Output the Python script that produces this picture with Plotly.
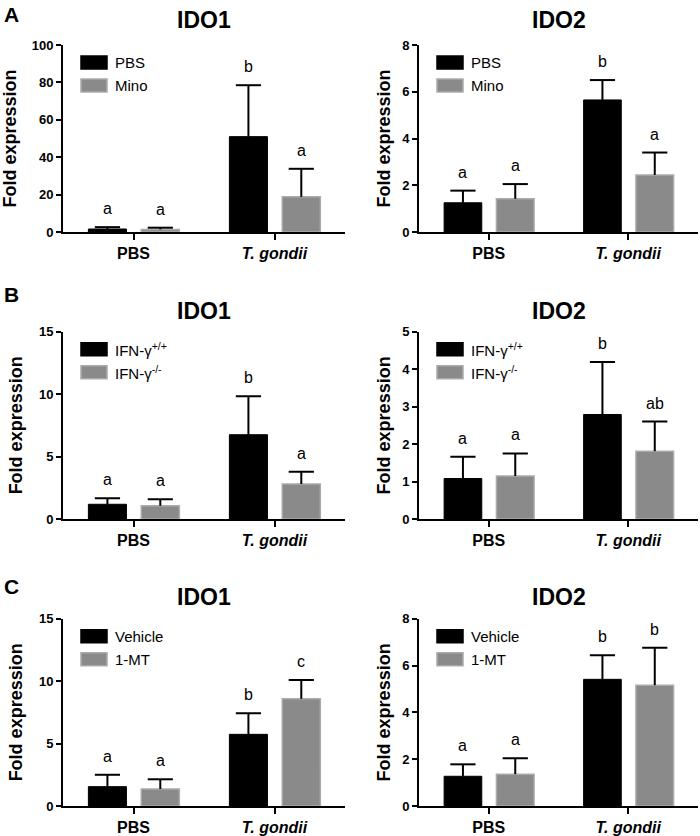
import plotly.graph_objects as go
from plotly.subplots import make_subplots

# ---------------- data ----------------
categories = ["PBS", "T. gondii"]
tick_labels = ["PBS", "<i>T. gondii</i>"]

panel_letters = ["A", "B", "C"]
gene_titles = ["IDO1", "IDO2"]

legend_ctrl = ["PBS", "IFN-γ<sup>+/+</sup>", "Vehicle"]
legend_trt = ["Mino", "IFN-γ<sup>-/-</sup>", "1-MT"]

# row A (minocycline)
A1_ctrl = [1.6, 51.0];   A1_ctrl_err = [1.0, 27.5]
A1_trt = [1.4, 18.8];    A1_trt_err = [0.9, 15.0]
A2_ctrl = [1.25, 5.65];  A2_ctrl_err = [0.52, 0.85]
A2_trt = [1.42, 2.44];   A2_trt_err = [0.63, 0.96]
# row B (IFN-gamma KO)
B1_ctrl = [1.18, 6.75];  B1_ctrl_err = [0.48, 3.08]
B1_trt = [1.07, 2.80];   B1_trt_err = [0.52, 0.98]
B2_ctrl = [1.08, 2.79];  B2_ctrl_err = [0.58, 1.40]
B2_trt = [1.15, 1.81];   B2_trt_err = [0.60, 0.79]
# row C (1-MT)
C1_ctrl = [1.55, 5.74];  C1_ctrl_err = [0.95, 1.68]
C1_trt = [1.36, 8.59];   C1_trt_err = [0.78, 1.50]
C2_ctrl = [1.27, 5.41];  C2_ctrl_err = [0.51, 1.03]
C2_trt = [1.36, 5.16];   C2_trt_err = [0.68, 1.60]

A1_sig_ctrl = ["a", "b"]; A1_sig_trt = ["a", "a"]
A2_sig_ctrl = ["a", "b"]; A2_sig_trt = ["a", "a"]
B1_sig_ctrl = ["a", "b"]; B1_sig_trt = ["a", "a"]
B2_sig_ctrl = ["a", "b"]; B2_sig_trt = ["a", "ab"]
C1_sig_ctrl = ["a", "b"]; C1_sig_trt = ["a", "c"]
C2_sig_ctrl = ["a", "b"]; C2_sig_trt = ["a", "b"]

y_max = [[100, 8], [15, 5], [15, 8]]
y_dtick = [[20, 2], [5, 1], [5, 2]]

panels = [
    [(A1_ctrl, A1_ctrl_err, A1_trt, A1_trt_err, A1_sig_ctrl, A1_sig_trt),
     (A2_ctrl, A2_ctrl_err, A2_trt, A2_trt_err, A2_sig_ctrl, A2_sig_trt)],
    [(B1_ctrl, B1_ctrl_err, B1_trt, B1_trt_err, B1_sig_ctrl, B1_sig_trt),
     (B2_ctrl, B2_ctrl_err, B2_trt, B2_trt_err, B2_sig_ctrl, B2_sig_trt)],
    [(C1_ctrl, C1_ctrl_err, C1_trt, C1_trt_err, C1_sig_ctrl, C1_sig_trt),
     (C2_ctrl, C2_ctrl_err, C2_trt, C2_trt_err, C2_sig_ctrl, C2_sig_trt)],
]

# ---------------- style / layout ----------------
W, H = 700, 836
FONT = "Liberation Sans, Arial, sans-serif"
BLACK = "#000000"
GRAY = "#8a8a8a"
GRAY_EDGE = "#ababab"
BAR_W = 0.27
OFF_CTRL = -0.32
OFF_TRT = 0.055

col_px = [(63, 345), (419, 698)]
row_px = [(45, 232), (331.7, 519), (618.7, 806)]
title_shift = [25, 21, 22]
title_standoff = [12, 7]

fig = make_subplots(rows=3, cols=2)

def add_errs(row, col, xs, tops, errs):
    fig.add_trace(go.Scatter(
        x=xs, y=tops, mode="markers",
        marker=dict(symbol="line-ew", size=18, color=BLACK,
                    line=dict(width=2, color=BLACK)),
        error_y=dict(type="data", symmetric=False, array=[0] * len(errs),
                     arrayminus=errs, width=0, thickness=2, color=BLACK),
        showlegend=False, hoverinfo="skip"), row=row, col=col)

xpos = list(range(len(categories)))

for r in range(3):
    for c in range(2):
        ctrl, ctrl_err, trt, trt_err, sig_c, sig_t = panels[r][c]
        fig.add_trace(go.Bar(x=xpos, y=ctrl, width=BAR_W, offset=OFF_CTRL,
                             marker=dict(color=BLACK, line=dict(color=BLACK, width=1)),
                             showlegend=False), row=r + 1, col=c + 1)
        fig.add_trace(go.Bar(x=xpos, y=trt, width=BAR_W, offset=OFF_TRT,
                             marker=dict(color=GRAY, line=dict(color=GRAY_EDGE, width=1.5)),
                             showlegend=False), row=r + 1, col=c + 1)
        xc = [x + OFF_CTRL + BAR_W / 2 for x in xpos]
        xt = [x + OFF_TRT + BAR_W / 2 for x in xpos]
        top_c = [m + e for m, e in zip(ctrl, ctrl_err)]
        top_t = [m + e for m, e in zip(trt, trt_err)]
        add_errs(r + 1, c + 1, xc, top_c, ctrl_err)
        add_errs(r + 1, c + 1, xt, top_t, trt_err)

        idx = r * 2 + c + 1
        xname = "x" if idx == 1 else f"x{idx}"
        yname = "y" if idx == 1 else f"y{idx}"
        # significance letters
        for xs, tops, sig in ((xc, top_c, sig_c), (xt, top_t, sig_t)):
            for x, t, s in zip(xs, tops, sig):
                fig.add_annotation(x=x, y=t, xref=xname, yref=yname, text=s,
                                   showarrow=False, yanchor="bottom", yshift=8,
                                   font=dict(family=FONT, size=16, color=BLACK))
        # panel title
        fig.add_annotation(x=0.5, y=1, xref=f"{xname} domain", yref=f"{yname} domain",
                           text=f"<b>{gene_titles[c]}</b>", showarrow=False,
                           yanchor="middle", yshift=title_shift[r],
                           font=dict(family=FONT, size=23, color=BLACK))
        # manual legend
        for k, (fill, edge, lab) in enumerate(((BLACK, BLACK, legend_ctrl[r]),
                                              (GRAY, GRAY_EDGE, legend_trt[r]))):
            y0 = -11 - 23 * k
            fig.add_shape(type="rect", xref=f"{xname} domain", yref=f"{yname} domain",
                          xsizemode="pixel", ysizemode="pixel", xanchor=0, yanchor=1,
                          x0=18, x1=44, y0=y0, y1=y0 - 13,
                          fillcolor=fill, line=dict(color=edge, width=1.5))
            fig.add_annotation(x=0, y=1, xref=f"{xname} domain", yref=f"{yname} domain",
                               text=lab, showarrow=False, xanchor="left", yanchor="middle",
                               xshift=50, yshift=y0 - 6.5,
                               font=dict(family=FONT, size=15, color=BLACK))

        x0p, x1p = col_px[c]
        y0p, y1p = row_px[r]
        fig.update_xaxes(domain=[x0p / W, x1p / W], range=[-0.5, 1.5], automargin=False,
                         tickvals=xpos, ticktext=tick_labels,
                         showline=True, linecolor=BLACK, linewidth=2,
                         ticks="outside", ticklen=6, tickwidth=2, tickcolor=BLACK,
                         tickfont=dict(family=FONT, size=16, color=BLACK, weight="bold"),
                         showgrid=False, zeroline=False, row=r + 1, col=c + 1)
        fig.update_yaxes(domain=[1 - y1p / H, 1 - y0p / H], range=[0, y_max[r][c]],
                         automargin=False, dtick=y_dtick[r][c], tick0=0,
                         showline=True, linecolor=BLACK, linewidth=2,
                         ticks="outside", ticklen=5, tickwidth=2, tickcolor=BLACK,
                         tickfont=dict(family=FONT, size=13, color=BLACK, weight="bold"),
                         title=dict(text="Fold expression", standoff=title_standoff[c],
                                    font=dict(family=FONT, size=18, color=BLACK, weight="bold")),
                         showgrid=False, zeroline=False, row=r + 1, col=c + 1)

# panel letters
for letter, ypx in zip(panel_letters, [14, 294, 586]):
    fig.add_annotation(x=11 / W, y=1 - ypx / H, xref="paper", yref="paper",
                       text=f"<b>{letter}</b>", showarrow=False,
                       xanchor="center", yanchor="middle",
                       font=dict(family=FONT, size=21, color=BLACK))

fig.update_layout(width=W, height=H, margin=dict(l=0, r=0, t=0, b=0, autoexpand=False),
                  plot_bgcolor="white", paper_bgcolor="white",
                  barmode="overlay", showlegend=False, hovermode=False,
                  font=dict(family=FONT, color=BLACK))

fig.write_html("out.html", config={"displayModeBar": False},
               post_script="document.body.style.margin='0';document.body.style.overflow='hidden';")
